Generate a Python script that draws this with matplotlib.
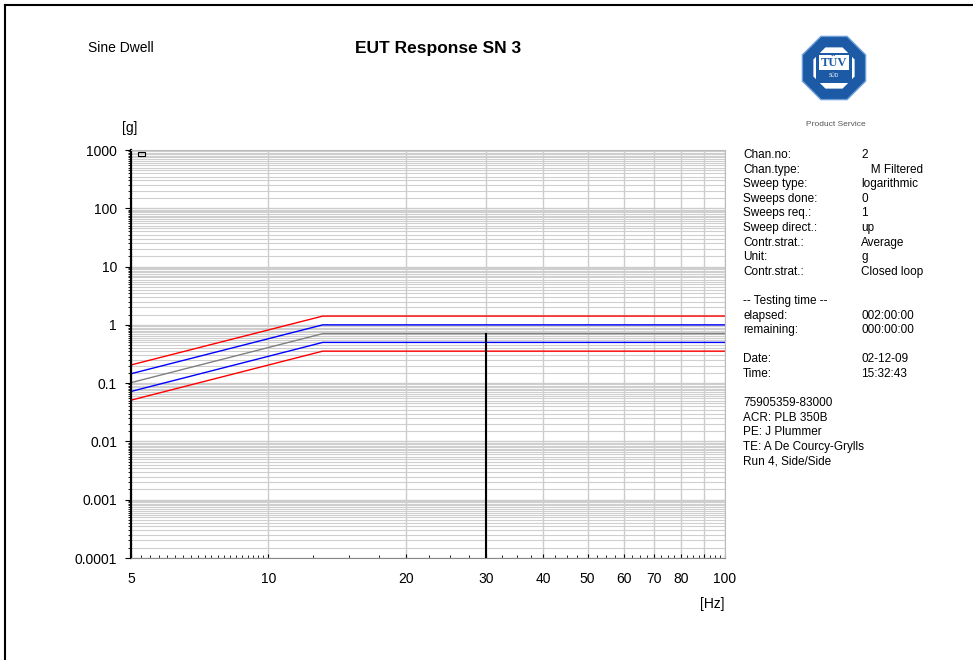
import numpy as np
import matplotlib
matplotlib.use("Agg")
import matplotlib.pyplot as plt
from matplotlib.patches import RegularPolygon, Rectangle
from matplotlib.lines import Line2D
from matplotlib.ticker import FixedLocator, NullFormatter, LogLocator

plt.rcParams['font.family'] = ['Liberation Sans', 'DejaVu Sans']

# --- Data ---------------------------------------------------------------------
FREQ = [5, 13.15, 100]                 # Hz, profile breakpoints
REF = [0.102, 0.707, 0.707]            # reference profile [g]
ALARM_HI = [0.145, 1.0, 1.0]           # +3 dB
ALARM_LO = [0.072, 0.5, 0.5]           # -3 dB
ABORT_HI = [0.205, 1.414, 1.414]       # +6 dB
ABORT_LO = [0.051, 0.354, 0.354]       # -6 dB
RESP_FREQ = [30, 30]                   # current dwell frequency
RESP_G = [0.0001, 0.707]

X_TICKS = [5, 10, 20, 30, 40, 50, 60, 70, 80, 90, 100]
X_LABELS = ["5", "10", "20", "30", "40", "50", "60", "70", "80", "", "100"]
Y_TICKS = [0.0001, 0.001, 0.01, 0.1, 1, 10, 100, 1000]
Y_LABELS = ["0.0001", "0.001", "0.01", "0.1", "1", "10", "100", "1000"]

INFO_LABELS = ["Chan.no:", "Chan.type:", "Sweep type:", "Sweeps done:", "Sweeps req.:",
               "Sweep direct.:", "Contr.strat.:", "Unit:", "Contr.strat.:", "",
               "-- Testing time --", "elapsed:", "remaining:", "",
               "Date:", "Time:", "",
               "75905359-83000", "ACR: PLB 350B", "PE: J Plummer",
               "TE: A De Courcy-Grylls", "Run 4, Side/Side"]
INFO_VALUES = ["2", "   M Filtered", "logarithmic", "0", "1",
               "up", "Average", "g", "Closed loop", "",
               "", "002:00:00", "000:00:00", "",
               "02-12-09", "15:32:43", "",
               "", "", "", "", ""]

# --- Figure -------------------------------------------------------------------
fig = plt.figure(figsize=(9.73, 6.6), dpi=100)
fig.patch.set_facecolor('white')

# page border (left + top)
fig.add_artist(Line2D([5/973, 5/973], [0, 1 - 5/660], color='black', lw=1.5))
fig.add_artist(Line2D([5/973, 1], [1 - 5/660, 1 - 5/660], color='black', lw=1.5))

ax = fig.add_axes([131/973, 1 - 558/660, 594/973, 408/660])
ax.set_xscale('log')
ax.set_yscale('log')
ax.set_xlim(5, 100)
ax.set_ylim(0.0001, 1000)

# grid
ax.yaxis.set_major_locator(FixedLocator(Y_TICKS))
ax.set_yticklabels(Y_LABELS)
ax.yaxis.set_minor_locator(LogLocator(base=10, subs=np.arange(1.5, 10, 0.5), numticks=20))
ax.yaxis.set_minor_formatter(NullFormatter())
ax.xaxis.set_major_locator(FixedLocator(X_TICKS))
ax.set_xticklabels(X_LABELS)
ax.xaxis.set_minor_locator(LogLocator(base=10, subs=np.arange(1.0, 10, 0.25), numticks=20))
ax.xaxis.set_minor_formatter(NullFormatter())
ax.grid(True, which='major', axis='both', color='#cccccc', lw=1.0)
ax.grid(True, which='minor', axis='y', color='#cfcfcf', lw=0.8)
ax.set_axisbelow(True)

ax.tick_params(axis='both', which='major', labelsize=10, length=4, direction='out', pad=6)
ax.tick_params(axis='y', which='minor', length=2, direction='out')
ax.tick_params(axis='x', which='minor', length=2, direction='in')
ax.tick_params(axis='x', which='major', length=3, direction='in', pad=10)

for side in ['top', 'right']:
    ax.spines[side].set_color('#bbbbbb')
ax.spines['left'].set_linewidth(1.6)
ax.spines['bottom'].set_color('#888888')

# profile and tolerance lines
ax.plot(FREQ, ABORT_HI, color='red', lw=1)
ax.plot(FREQ, ALARM_HI, color='blue', lw=1)
ax.plot(FREQ, REF, color='gray', lw=1)
ax.plot(FREQ, ALARM_LO, color='blue', lw=1)
ax.plot(FREQ, ABORT_LO, color='red', lw=1)
ax.plot(RESP_FREQ, RESP_G, color='black', lw=1.5)

# small legend box marker
ax.add_patch(Rectangle((0.012, 0.986), 0.012, 0.008, transform=ax.transAxes,
                       fill=False, edgecolor='black', lw=0.8))

# axis unit labels
fig.text(130/973, 1 - 128/660, "[g]", ha='center', va='center', fontsize=10)
fig.text(712/973, 1 - 604/660, "[Hz]", ha='center', va='center', fontsize=10)

# titles
fig.text(88/973, 1 - 48/660, "Sine Dwell", ha='left', va='center', fontsize=10)
fig.text(438/973, 1 - 48/660, "EUT Response SN 3", ha='center', va='center',
         fontsize=12.5, fontweight='bold')

# info panel
y0 = 155
step = 14.6
for i, (lab, val) in enumerate(zip(INFO_LABELS, INFO_VALUES)):
    y = 1 - (y0 + i * step) / 660
    fig.text(743/973, y, lab, ha='left', va='center', fontsize=8.5)
    fig.text(861/973, y, val, ha='left', va='center', fontsize=8.5)

# TUV logo
lax = fig.add_axes([798/973, 1 - 104/660, 72/973, 72/660])
lax.set_xlim(-1, 1)
lax.set_ylim(-1, 1)
lax.set_aspect('equal')
lax.axis('off')
lax.add_patch(RegularPolygon((0, 0), 8, radius=0.95, orientation=np.pi / 8,
                             facecolor='#1c5aa5', edgecolor='#6fa0d8', lw=1))
lax.add_patch(RegularPolygon((0, 0), 8, radius=0.62, orientation=np.pi / 8,
                             facecolor='white', edgecolor='none'))
lax.add_patch(Rectangle((-0.5, -0.42), 1.0, 0.84, facecolor='#1c5aa5', edgecolor='none'))
lax.add_patch(Rectangle((-0.42, -0.05), 0.84, 0.4, facecolor='white', edgecolor='none'))
lax.text(0, 0.15, "TÜV", ha='center', va='center', fontsize=9, fontweight='bold',
         color='#1c5aa5', family='Liberation Serif')
lax.text(0, -0.22, "SÜD", ha='center', va='center', fontsize=3.5, color='white')
fig.text(836/973, 1 - 124/660, "Product Service", ha='center', va='center',
         fontsize=6, color='#555555')

plt.savefig('out.png', dpi=100)
